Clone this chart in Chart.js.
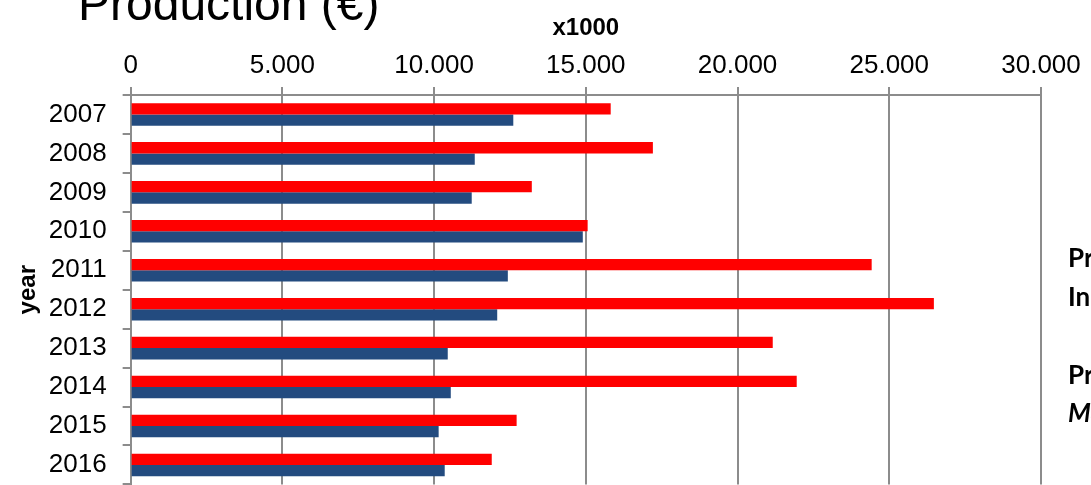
<!DOCTYPE html>
<html>
<head>
<meta charset="utf-8">
<title>Production (€)</title>
<script src="https://cdn.jsdelivr.net/npm/chart.js@4/dist/chart.umd.min.js"></script>
<style>
  html, body { margin: 0; padding: 0; background: #fff; overflow: hidden; }
  /* taller than the window: the y-axis keeps half a label of room below the last bar */
  #wrap { width: 1091px; height: 516px; position: relative; }
</style>
</head>
<body>
<div id="wrap"><canvas id="prodChart"></canvas></div>
<script>
// values in thousands of euro
const years = ['2007', '2008', '2009', '2010', '2011', '2012', '2013', '2014', '2015', '2016'];
const productionRed = [15820, 17210, 13220, 15060, 24420, 26470, 21160, 21950, 12720, 11900];
const productionBlue = [12610, 11340, 11240, 14900, 12430, 12080, 10450, 10550, 10150, 10350];
const xTickLabels = ['0', '5.000', '10.000', '15.000', '20.000', '25.000', '30.000'];
const legendRed = ['Production', 'Industry'];
const legendBlue = ['Production', 'Market'];

const gridGray = '#8c8c8c';
const baseFont = '"Liberation Sans", Arial, sans-serif';

// big heading + side legend text, drawn straight on the canvas
const extraText = {
    id: 'extraText',
    afterDraw(chart) {
        const ctx = chart.ctx;
        ctx.save();
        ctx.fillStyle = '#000';
        ctx.textAlign = 'left';
        ctx.textBaseline = 'alphabetic';
        ctx.font = '48px ' + baseFont;
        ctx.fillText('Production (€)', 78, 20);

        ctx.font = 'bold 26px Lato, "DejaVu Sans", sans-serif';
        ctx.fillText(legendRed[0], 1068, 267);
        ctx.fillText(legendRed[1], 1068, 306);
        ctx.fillText(legendBlue[0], 1068, 384);
        ctx.font = 'italic bold 26px Lato, "DejaVu Sans", sans-serif';
        ctx.fillText(legendBlue[1], 1068, 422);
        ctx.restore();
    }
};

function renderChart() {
    var ctx = document.getElementById('prodChart').getContext('2d');
    new Chart(ctx, {
        type: 'bar',
        data: {
            labels: years,
            datasets: [{
                label: legendRed.join(' '),
                data: productionRed,
                backgroundColor: '#ff0000',
                categoryPercentage: 0.58,
                barPercentage: 1.0
            }, {
                label: legendBlue.join(' '),
                data: productionBlue,
                backgroundColor: '#234b7f',
                categoryPercentage: 0.58,
                barPercentage: 1.0
            }]
        },
        options: {
            indexAxis: 'y',
            responsive: true,
            maintainAspectRatio: false,
            animation: false,
            layout: {
                padding: { top: 14, left: 14, right: 50, bottom: 2 }
            },
            plugins: {
                legend: { display: false },
                tooltip: { enabled: false }
            },
            scales: {
                x: {
                    position: 'top',
                    min: 0,
                    max: 30000,
                    ticks: {
                        stepSize: 5000,
                        color: '#000',
                        padding: 6,
                        font: { family: baseFont, size: 26 },
                        callback: (v, i) => xTickLabels[i]
                    },
                    grid: {
                        color: gridGray,
                        lineWidth: 2,
                        tickLength: 8
                    },
                    border: { color: gridGray, width: 2 },
                    title: {
                        display: true,
                        text: 'x1000',
                        color: '#000',
                        padding: { top: 0, bottom: 1 },
                        font: { family: baseFont, size: 24, weight: 'bold' }
                    }
                },
                y: {
                    ticks: {
                        color: '#000',
                        padding: 16,
                        font: { family: baseFont, size: 26 }
                    },
                    grid: {
                        offset: true,
                        drawOnChartArea: false,
                        color: gridGray,
                        lineWidth: 2,
                        tickLength: 8
                    },
                    border: { color: gridGray, width: 2 },
                    title: {
                        display: true,
                        text: 'year',
                        color: '#000',
                        padding: { top: 0, bottom: -10 },
                        font: { family: baseFont, size: 24, weight: 'bold' }
                    }
                }
            }
        },
        plugins: [extraText]
    });
}

window.onload = function() {
    renderChart();
};
</script>
</body>
</html>
